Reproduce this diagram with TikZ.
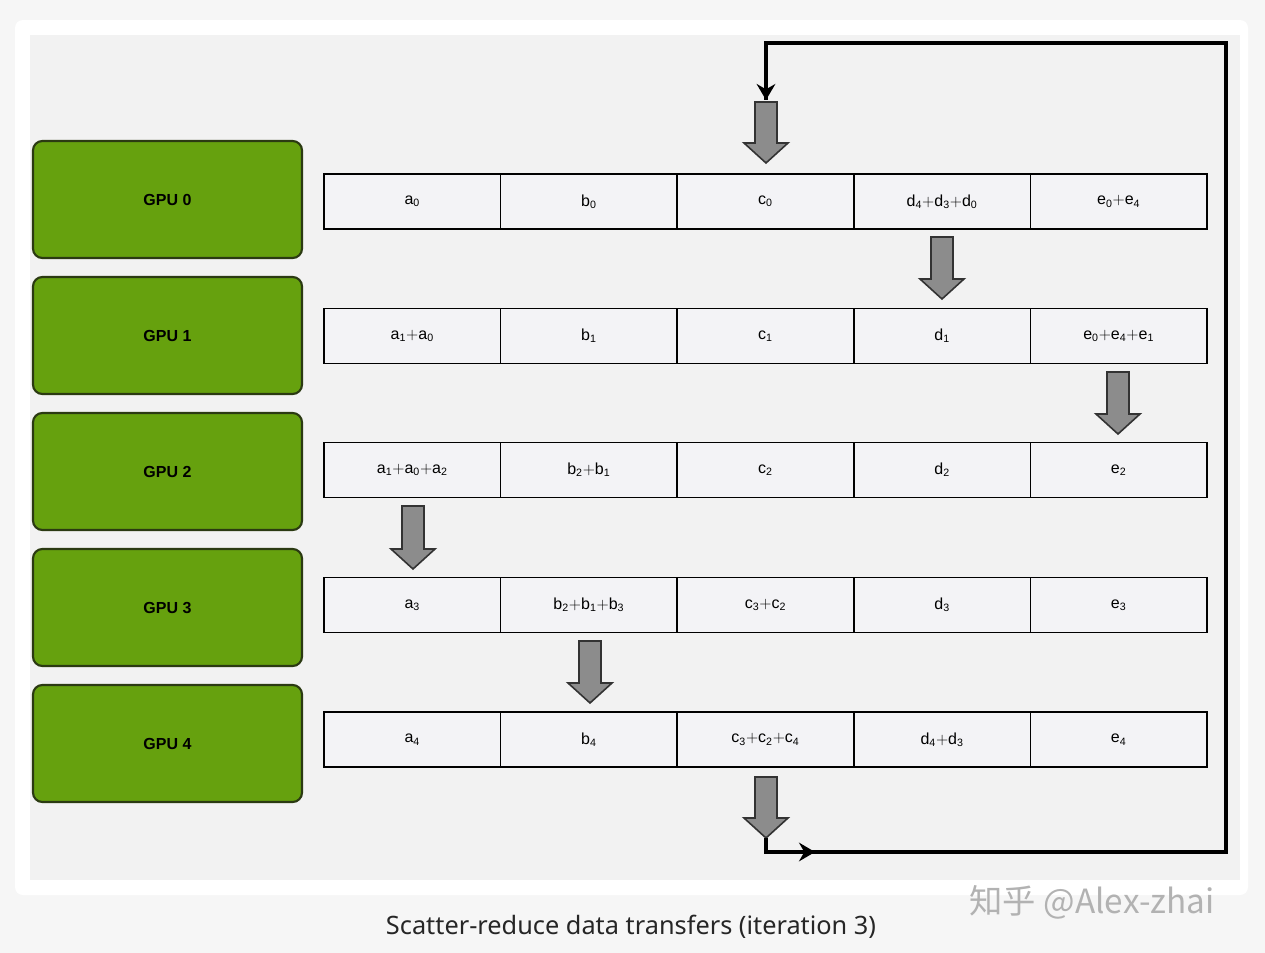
\documentclass[tikz,border=0pt]{standalone}
\usepackage{fontspec}
\setmainfont{Liberation Sans}
\newfontfamily\capfont{Noto Sans}
\newfontfamily\cjk{Noto Sans CJK SC}
\usetikzlibrary{shapes.arrows,arrows.meta}
\definecolor{pagebg}{HTML}{F6F6F6}
\definecolor{innerbg}{HTML}{F2F2F2}
\definecolor{gpugreen}{HTML}{66A10E}
\definecolor{gpuedge}{HTML}{2B3A12}
\definecolor{cellfill}{HTML}{F3F3F6}
\definecolor{arrgray}{HTML}{8C8C8C}
\tikzset{
  gpu/.style={draw=gpuedge,line width=1.6pt,fill=gpugreen,rounded corners=7pt,minimum width=269*0.75pt,minimum height=117*0.75pt,font=\bfseries\large,inner sep=0pt},
  cell/.style={draw=black,line width=1.2pt,fill=cellfill,minimum width=176.6*0.75pt,minimum height=55*0.75pt,inner sep=0pt,font=\large},
  blk/.style={draw=black!80,line width=1.2pt,fill=arrgray},
  loop/.style={line width=3pt,black}
}
\newcommand{\blockarrow}[3]{% x, ytop, ybottom
  \fill[blk] (#1-11,#2) -- (#1+11,#2) -- (#1+11,#3-20) -- (#1+22,#3-20) -- (#1,#3) -- (#1-22,#3-20) -- (#1-11,#3-20) -- cycle;}
\begin{document}
\begin{tikzpicture}[x=0.75pt,y=-0.75pt]
\fill[pagebg] (0,0) rectangle (1265,953);
\useasboundingbox (0,0) rectangle (1265,953);
\fill[white,rounded corners=6pt] (15,20) rectangle (1248,895);
\fill[innerbg] (30,35) rectangle (1240,880);
\foreach \i/\y in {0/199.5,1/335.5,2/471.5,3/607.5,4/743.5}{
  \node[gpu] (g\i) at (167.5,\y) {GPU \i};
}
\def\cx#1{412.3+176.6*#1}
\foreach \r/\y/\a/\b/\c/\d/\e in {
 0/201.5/$\mathrm{a_0}$/$\mathrm{b_0}$/$\mathrm{c_0}$/$\mathrm{d_4{+}d_3{+}d_0}$/$\mathrm{e_0{+}e_4}$,
 1/336/$\mathrm{a_1{+}a_0}$/$\mathrm{b_1}$/$\mathrm{c_1}$/$\mathrm{d_1}$/$\mathrm{e_0{+}e_4{+}e_1}$,
 2/470/$\mathrm{a_1{+}a_0{+}a_2}$/$\mathrm{b_2{+}b_1}$/$\mathrm{c_2}$/$\mathrm{d_2}$/$\mathrm{e_2}$,
 3/605/$\mathrm{a_3}$/$\mathrm{b_2{+}b_1{+}b_3}$/$\mathrm{c_3{+}c_2}$/$\mathrm{d_3}$/$\mathrm{e_3}$,
 4/739.5/$\mathrm{a_4}$/$\mathrm{b_4}$/$\mathrm{c_3{+}c_2{+}c_4}$/$\mathrm{d_4{+}d_3}$/$\mathrm{e_4}$}{
  \node[cell] (r\r a) at (412.3,\y) {\a};
  \node[cell] (r\r b) at (588.9,\y) {\b};
  \node[cell] (r\r c) at (765.5,\y) {\c};
  \node[cell] (r\r d) at (942.1,\y) {\d};
  \node[cell] (r\r e) at (1118.7,\y) {\e};
}
\blockarrow{766}{102}{163}
\blockarrow{942}{237}{299}
\blockarrow{1118}{372}{434}
\blockarrow{413}{506}{569}
\blockarrow{590}{641}{703}
\blockarrow{766}{777}{838}
\coordinate (ls) at (766,838);
\coordinate (lb) at (766,852);
\coordinate (lr) at (1226,852);
\coordinate (lt) at (1226,43);
\coordinate (ll) at (766,43);
\coordinate (le) at (766,100);
\draw[loop] (ls) -- (lb) -- (lr) -- (lt) -- (ll) -- (le);
\draw[loop,-{Stealth[length=12pt,width=14pt,inset=4pt]}] (ll) -- (le);
\draw[loop,-{Stealth[length=12pt,width=14pt,inset=4pt]}] (lb) -- (815,852);
\node[font=\capfont\fontsize{19}{22}\selectfont,text=black!85] (cap) at (631,927) {Scatter-reduce data transfers (iteration 3)};
\node[font=\cjk\fontsize{25}{28}\selectfont,text=white,draw=none] (wm) at (1092,902) {\textcolor{black!30}{知乎 @Alex-zhai}};
\end{tikzpicture}
\end{document}
